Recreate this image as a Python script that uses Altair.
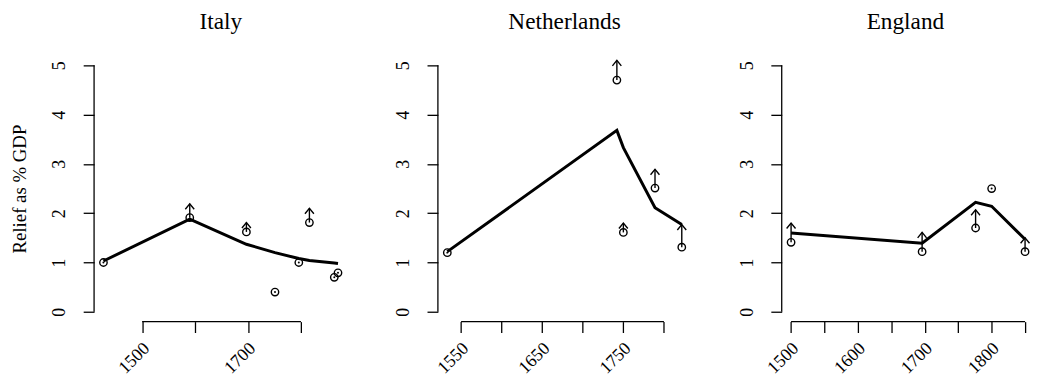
import altair as alt
import pandas as pd

FONT = "Liberation Serif"

# ---------------- data ----------------
# Italy
it_years = [1427, 1590, 1697, 1751, 1796, 1816, 1863, 1870]
it_values = [1.00, 1.91, 1.62, 0.40, 1.00, 1.81, 0.70, 0.79]
it_upper = [None, 2.19, 1.81, None, None, 2.10, None, None]
it_line_years = [1427, 1590, 1697, 1751, 1796, 1816, 1863, 1870]
it_line_values = [1.03, 1.88, 1.37, 1.20, 1.08, 1.04, 0.99, 0.98]
it_ticks = [1500, 1600, 1700, 1800]
it_labels = [1500, 1700]

# Netherlands
nl_years = [1533, 1742, 1750, 1789, 1822]
nl_values = [1.20, 4.70, 1.61, 2.51, 1.31]
nl_upper = [None, 5.10, 1.80, 2.89, 1.77]
nl_line_years = [1533, 1742, 1750, 1789, 1822]
nl_line_values = [1.22, 3.68, 3.33, 2.11, 1.77]
nl_ticks = [1550, 1600, 1650, 1700, 1750, 1800]
nl_labels = [1550, 1650, 1750]

# England
en_years = [1500, 1696, 1776, 1800, 1850]
en_values = [1.41, 1.22, 1.70, 2.50, 1.22]
en_upper = [1.80, 1.61, 2.07, None, 1.50]
en_line_years = [1500, 1696, 1776, 1800, 1850]
en_line_values = [1.60, 1.39, 2.22, 2.14, 1.47]
en_ticks = [1500, 1550, 1600, 1650, 1700, 1750, 1800, 1850]
en_labels = [1500, 1600, 1700, 1800]

y_ticks = [0, 1, 2, 3, 4, 5]
y_title = "Relief as % GDP"

H = 269
ARROW = "M-0.9,1.1L0,0L0.9,1.1"


def panel(title, years, values, upper, lyears, lvalues, ticks, labels,
          domain, width, ytitle=None):
    pts = pd.DataFrame({"year": years, "value": values, "upper": upper})
    arr = pts.dropna(subset=["upper"])
    exact = pts[pts["upper"].isna()]
    line = pd.DataFrame({"year": lyears, "value": lvalues})

    xs = alt.Scale(domain=domain, nice=False, zero=False)
    ys = alt.Scale(domain=[-0.2, 5.2], nice=False, zero=False)
    lab_list = ",".join(str(v) for v in labels)
    xaxis = alt.Axis(
        values=ticks, format="d", domain=False, grid=False,
        tickSize=11, tickWidth=1.3, tickColor="black",
        labelExpr=f"indexof([{lab_list}], datum.value) >= 0 ? datum.label : ''",
        labelAngle=315, labelAlign="right", labelBaseline="middle",
        labelPadding=13, labelOffset=4.5, labelFont=FONT, labelFontSize=18,
        labelColor="black", labelOverlap=False, labelFlush=False, title=None,
    )
    ykw = dict(
        values=y_ticks, domain=False, grid=False,
        tickSize=11, tickWidth=1.3, tickColor="black",
        labelAngle=270, labelAlign="center", labelBaseline="alphabetic",
        labelPadding=19, labelFont=FONT, labelFontSize=18, labelColor="black",
        labelOverlap=False, labelFlush=False,
    )
    if ytitle:
        ykw.update(title=ytitle, titleX=-69, titleAngle=270, titleAlign="center",
                   titleBaseline="alphabetic", titleFont=FONT, titleFontSize=19,
                   titleFontWeight="normal", titleColor="black")
    else:
        ykw.update(title=None)
    yaxis = alt.Axis(**ykw)

    X = lambda f: alt.X(f, scale=xs, axis=xaxis)
    Y = lambda f: alt.Y(f, scale=ys, axis=yaxis)

    line_l = alt.Chart(line).mark_line(color="black", strokeWidth=3).encode(
        x=X("year:Q"), y=Y("value:Q"))
    shaft = alt.Chart(arr).mark_rule(color="black", strokeWidth=1.4).encode(
        x=X("year:Q"), y=Y("value:Q"), y2="upper:Q")
    head = alt.Chart(arr).mark_point(shape=ARROW, filled=False, size=100,
                                     color="black", strokeWidth=1.4, opacity=1).encode(
        x=X("year:Q"), y=Y("upper:Q"))
    circ = alt.Chart(pts).mark_point(shape="circle", filled=False, size=56,
                                     color="black", strokeWidth=1.4, opacity=1).encode(
        x=X("year:Q"), y=Y("value:Q"))
    dot = alt.Chart(exact).mark_point(shape="circle", filled=True, size=4,
                                      color="black", opacity=1).encode(
        x=X("year:Q"), y=Y("value:Q"))
    xline = alt.Chart(pd.DataFrame({"year": [ticks[0]], "year_end": [ticks[-1]]})).mark_rule(
        color="black", strokeWidth=1.3).encode(
        x=X("year:Q"), x2="year_end:Q", y=alt.value(H))
    yline = alt.Chart(pd.DataFrame({"value": [y_ticks[0]], "value_end": [y_ticks[-1]]})).mark_rule(
        color="black", strokeWidth=1.3).encode(
        x=alt.value(0), y=Y("value:Q"), y2="value_end:Q")

    return alt.layer(xline, yline, line_l, shaft, head, circ, dot).properties(
        width=width, height=H,
        title=alt.TitleParams(text=title, font=FONT, fontSize=23.5, fontWeight="normal",
                              color="black", anchor="middle", baseline="alphabetic",
                              offset=3, frame="group"),
    )


p1 = panel("Italy", it_years, it_values, it_upper, it_line_years, it_line_values,
           it_ticks, it_labels, [1409.3, 1887.7], 256, y_title)
p2 = panel("Netherlands", nl_years, nl_values, nl_upper, nl_line_years, nl_line_values,
           nl_ticks, nl_labels, [1521.4, 1833.6], 256)
p3 = panel("England", en_years, en_values, en_upper, en_line_years, en_line_values,
           en_ticks, en_labels, [1486, 1856], 250)

chart = alt.hconcat(p1, p2, p3, spacing=91.5, bounds="flush").properties(
    padding={"left": 3, "top": 0, "right": 0, "bottom": 0},
    background="white",
).configure_view(stroke=None)

chart.save("out.html", embed_options={"renderer": "svg", "actions": False})
